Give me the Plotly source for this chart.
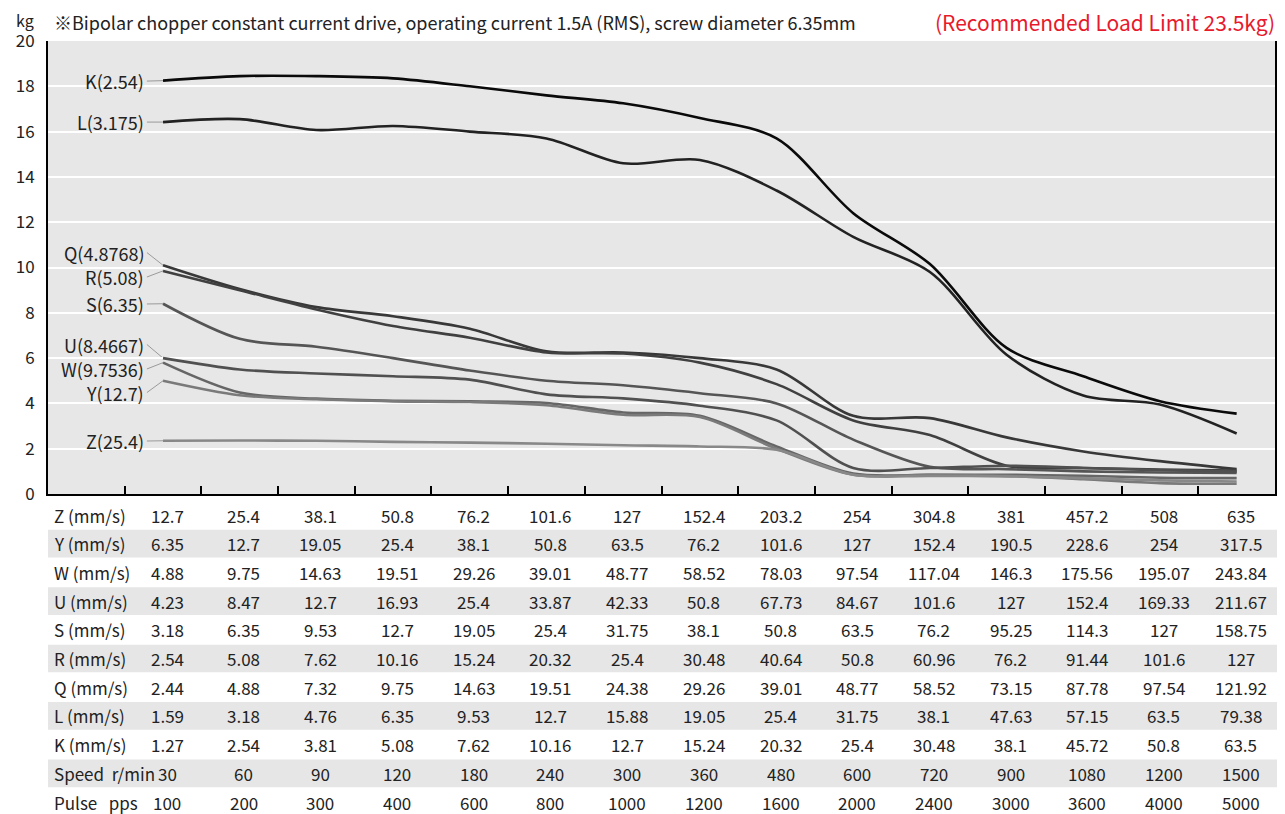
import plotly.graph_objects as go

# speed columns (one curve point per column)
col_idx = list(range(15))

# load in kg
k_load = [18.25, 18.45, 18.45, 18.35, 18.0, 17.6, 17.25, 16.6, 15.7, 12.4, 10.15, 6.45, 5.2, 4.1, 3.55]
l_load = [16.42, 16.55, 16.07, 16.25, 16.0, 15.7, 14.6, 14.75, 13.4, 11.35, 9.8, 6.15, 4.35, 3.95, 2.67]
q_load = [10.1, 9.05, 8.25, 7.85, 7.3, 6.3, 6.25, 6.0, 5.5, 3.45, 3.35, 2.5, 1.88, 1.45, 1.1]
r_load = [9.85, 9.0, 8.15, 7.42, 6.9, 6.25, 6.2, 5.8, 4.85, 3.25, 2.6, 1.25, 1.15, 1.08, 1.03]
s_load = [8.4, 6.85, 6.5, 6.0, 5.45, 5.0, 4.8, 4.45, 4.0, 2.4, 1.2, 1.1, 1.0, 0.95, 0.93]
u_load = [6.0, 5.5, 5.32, 5.2, 5.05, 4.4, 4.22, 3.9, 3.25, 1.15, 1.15, 1.25, 1.15, 1.05, 0.99]
w_load = [5.8, 4.48, 4.21, 4.12, 4.09, 4.02, 3.6, 3.45, 2.1, 0.9, 0.85, 0.85, 0.8, 0.72, 0.7]
y_load = [5.0, 4.36, 4.18, 4.09, 4.06, 3.92, 3.5, 3.4, 2.0, 0.85, 0.85, 0.8, 0.65, 0.48, 0.45]
z_load = [2.35, 2.36, 2.35, 2.3, 2.27, 2.22, 2.15, 2.1, 1.95, 0.85, 0.8, 0.78, 0.7, 0.6, 0.55]

curve_names = ["K(2.54)", "L(3.175)", "Q(4.8768)", "R(5.08)", "S(6.35)",
               "U(8.4667)", "W(9.7536)", "Y(12.7)", "Z(25.4)"]
curve_loads = [k_load, l_load, q_load, r_load, s_load, u_load, w_load, y_load, z_load]
curve_colors = ["#0a0a0a", "#222222", "#383838", "#404040", "#555555",
                "#505050", "#666666", "#7a7a7a", "#888888"]
# where each name sits on the left (kg)
label_pos = [18.23, 16.42, 10.66, 9.58, 8.39, 6.6, 5.52, 4.48, 2.34]

# speed table under the chart
row_names = ["Z (mm/s)", "Y (mm/s)", "W (mm/s)", "U (mm/s)", "S (mm/s)", "R (mm/s)",
             "Q (mm/s)", "L (mm/s)", "K (mm/s)", "Speed\u00a0 r/min", "Pulse\u00a0\u00a0 pps"]
z_speed = [12.7, 25.4, 38.1, 50.8, 76.2, 101.6, 127, 152.4, 203.2, 254, 304.8, 381, 457.2, 508, 635]
y_speed = [6.35, 12.7, 19.05, 25.4, 38.1, 50.8, 63.5, 76.2, 101.6, 127, 152.4, 190.5, 228.6, 254, 317.5]
w_speed = [4.88, 9.75, 14.63, 19.51, 29.26, 39.01, 48.77, 58.52, 78.03, 97.54, 117.04, 146.3, 175.56, 195.07, 243.84]
u_speed = [4.23, 8.47, 12.7, 16.93, 25.4, 33.87, 42.33, 50.8, 67.73, 84.67, 101.6, 127, 152.4, 169.33, 211.67]
s_speed = [3.18, 6.35, 9.53, 12.7, 19.05, 25.4, 31.75, 38.1, 50.8, 63.5, 76.2, 95.25, 114.3, 127, 158.75]
r_speed = [2.54, 5.08, 7.62, 10.16, 15.24, 20.32, 25.4, 30.48, 40.64, 50.8, 60.96, 76.2, 91.44, 101.6, 127]
q_speed = [2.44, 4.88, 7.32, 9.75, 14.63, 19.51, 24.38, 29.26, 39.01, 48.77, 58.52, 73.15, 87.78, 97.54, 121.92]
l_speed = [1.59, 3.18, 4.76, 6.35, 9.53, 12.7, 15.88, 19.05, 25.4, 31.75, 38.1, 47.63, 57.15, 63.5, 79.38]
k_speed = [1.27, 2.54, 3.81, 5.08, 7.62, 10.16, 12.7, 15.24, 20.32, 25.4, 30.48, 38.1, 45.72, 50.8, 63.5]
rpm = [30, 60, 90, 120, 180, 240, 300, 360, 480, 600, 720, 900, 1080, 1200, 1500]
pps = [100, 200, 300, 400, 600, 800, 1000, 1200, 1600, 2000, 2400, 3000, 3600, 4000, 5000]
table_rows = [z_speed, y_speed, w_speed, u_speed, s_speed, r_speed, q_speed,
              l_speed, k_speed, rpm, pps]

FONT = "Noto Sans CJK SC"
# the page body adds an 8px margin, so the figure is 8px smaller than the window
OFF = 8
W, H = 1285 - OFF, 814 - OFF
PLOT_L, PLOT_R, PLOT_T, PLOT_B = 40, 1277, 41, 494   # in window pixels
ML, MT = PLOT_L - OFF, PLOT_T - OFF
MR = W - (PLOT_R - OFF)
MB = H - (PLOT_B - OFF)
plot_h = PLOT_B - PLOT_T
plot_w = PLOT_R - PLOT_L


def py_to_paper(py):
    return (PLOT_B - py) / plot_h


def px_to_paper(px):
    return (px - PLOT_L) / plot_w


fig = go.Figure()

for name, load, color in zip(curve_names, curve_loads, curve_colors):
    fig.add_trace(go.Scatter(x=col_idx, y=load, mode="lines", name=name,
                             line=dict(color=color, width=2.6, shape="spline", smoothing=0.9),
                             showlegend=False))

shapes = []
annots = []

# curve names + leader lines
for name, load, ly in zip(curve_names, curve_loads, label_pos):
    shapes.append(dict(type="line", xref="x", yref="y", x0=-0.21, y0=ly, x1=col_idx[0], y1=load[0],
                       line=dict(color="#9a9a9a", width=1), layer="below"))
    annots.append(dict(x=-0.23, y=ly, xref="x", yref="y", text=name, showarrow=False,
                       xanchor="right", yanchor="middle", borderpad=0,
                       font=dict(size=18, color="#222")))

# table
row_h = 28.7
for r, (rname, vals) in enumerate(zip(row_names, table_rows)):
    cy = 515 + row_h * r
    if r % 2 == 1:
        shapes.append(dict(type="rect", xref="paper", yref="paper", x0=0, x1=px_to_paper(1285),
                           y0=py_to_paper(cy - row_h / 2 + 0.5), y1=py_to_paper(cy + row_h / 2 - 0.5),
                           fillcolor="#e6e6e6", line=dict(width=0), layer="below"))
    annots.append(dict(x=px_to_paper(44), y=py_to_paper(cy), xref="paper", yref="paper", text=rname,
                       showarrow=False, xanchor="left", yanchor="middle",
                       font=dict(size=17, color="#222")))
    for i, v in zip(col_idx, vals):
        annots.append(dict(x=i, y=py_to_paper(cy), xref="x", yref="paper", text=f"{v:g}",
                           showarrow=False, xanchor="center", yanchor="middle", xshift=4,
                           font=dict(size=17, color="#222")))

# header texts
annots.append(dict(x=px_to_paper(7), y=py_to_paper(20), xref="paper", yref="paper", text="kg",
                   showarrow=False, xanchor="left", yanchor="middle", borderpad=0,
                   font=dict(size=16, color="#222")))
annots.append(dict(x=px_to_paper(44), y=py_to_paper(22), xref="paper", yref="paper",
                   text="※Bipolar chopper constant current drive, operating current 1.5A (RMS), screw diameter 6.35mm",
                   showarrow=False, xanchor="left", yanchor="middle", font=dict(size=18, color="#222")))
annots.append(dict(x=px_to_paper(1279), y=py_to_paper(22), xref="paper", yref="paper",
                   text="(Recommended Load Limit 23.5kg)",
                   showarrow=False, xanchor="right", yanchor="middle", font=dict(size=21, color="#e8192c")))

fig.update_layout(
    width=W, height=H,
    margin=dict(l=ML, r=MR, t=MT, b=MB),
    paper_bgcolor="white", plot_bgcolor="#e7e7e7",
    font=dict(family=FONT, color="#222"),
    shapes=shapes, annotations=annots,
    xaxis=dict(range=[-1.5, 14.5], showgrid=False, zeroline=False, showline=True,
               linecolor="black", linewidth=2, ticks="inside", ticklen=8, tickwidth=2,
               tickcolor="black", tickvals=[i - 0.5 for i in col_idx], showticklabels=False),
    yaxis=dict(range=[0, 20], dtick=2, showgrid=True, gridcolor="white", gridwidth=2,
               zeroline=False, showline=True, linecolor="black", linewidth=2, mirror=True,
               ticks="", ticklabelstandoff=8, tickfont=dict(size=17, color="#222")),
)

fig.write_html("out.html")
